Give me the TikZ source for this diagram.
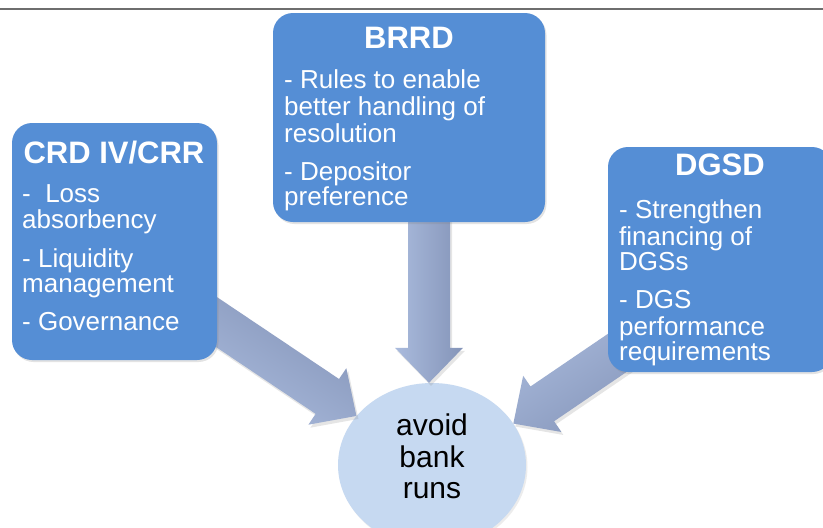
\documentclass[tikz,border=0pt]{standalone}
\usepackage{fontspec}
\setmainfont{Liberation Sans}
\usetikzlibrary{calc,shapes.geometric,shadows}
\definecolor{boxblue}{RGB}{85,142,213}
\definecolor{ellblue}{RGB}{198,217,241}
\definecolor{arrlight}{RGB}{170,187,221}
\definecolor{arrdark}{RGB}{132,148,184}
\definecolor{rulegray}{RGB}{110,110,110}
\pgfdeclarelayer{bg}\pgfdeclarelayer{mid}\pgfsetlayers{bg,mid,main}
\tikzset{
  panel/.style={draw=none, fill=boxblue, rounded corners=20pt, inner sep=0pt,
    drop shadow={opacity=0.22, shadow xshift=1.5pt, shadow yshift=-2pt}},
  titletxt/.style={font=\bfseries\fontsize{31}{33}\selectfont, text=white, inner sep=0pt, anchor=base},
  bodytxt/.style={font=\fontsize{26}{27}\selectfont, text=white, inner sep=0pt, anchor=base west},
  elltxt/.style={font=\fontsize{30}{32}\selectfont, text=black, inner sep=0pt, anchor=base},
  arrowfill/.style={top color=arrlight, bottom color=arrdark,
    drop shadow={opacity=0.2, shadow xshift=2pt, shadow yshift=-3pt}}
}
\newcommand\blockarrow[3]{%
  \path ($(#2)!35pt!(#1)$) coordinate (hb);
  \shade[arrowfill, shading angle=#3]
    ($(#1)!21pt!-90:(#2)$) -- ($(hb)!21pt!-90:(#2)$) -- ($(hb)!34pt!-90:(#2)$)
    -- (#2) -- ($(hb)!34pt!90:(#2)$) -- ($(hb)!21pt!90:(#2)$)
    -- ($(#1)!21pt!90:(#2)$) -- cycle;}
\begin{document}
\begin{tikzpicture}[x=1pt, y=-1pt]
\useasboundingbox (0,0) rectangle (823,528);
\begin{pgfonlayer}{bg}
\fill[white] (0,0) rectangle (823,528);
\node[ellipse, fill=ellblue, inner sep=0pt, minimum width=188pt, minimum height=164pt,
  drop shadow={opacity=0.15, shadow xshift=1.5pt, shadow yshift=-2pt}] (avoid) at (432,465) {};
\end{pgfonlayer}
\draw[rulegray, line width=2pt] (0,9) -- (823,9);

% boxes
\node[panel, minimum width=272pt, minimum height=209pt] (brrd) at (409,117.5) {};
\node[panel, minimum width=205pt, minimum height=237pt] (crd) at (114.5,241.5) {};
\node[panel, minimum width=224pt, minimum height=225pt] (dgsd) at (720,259.5) {};

% arrows
\coordinate (lt) at (200,311);
\coordinate (rt) at (670,317);
\coordinate (mt) at (429,200);
\coordinate (lp) at (avoid.147);
\coordinate (rp) at (avoid.27.4);
\coordinate (mp) at ($(avoid.north)+(-3,0)$);
\begin{pgfonlayer}{mid}
\blockarrow{lt}{lp}{146}
\blockarrow{rt}{rp}{34}
\blockarrow{mt}{mp}{90}
\end{pgfonlayer}

% BRRD text
\node[titletxt] (brrdT) at (409,48) {BRRD};
\node[bodytxt] (b1) at (284,88) {- Rules to enable};
\node[bodytxt] (b2) at (284,115) {better handling of};
\node[bodytxt] (b3) at (284,142) {resolution};
\node[bodytxt] (b4) at (284,180) {- Depositor};
\node[bodytxt] (b5) at (284,205) {preference};

% CRD text
\node[titletxt] (crdT) at (114,163) {CRD IV/CRR};
\node[bodytxt] (c1) at (22,202) {-\ \ Loss};
\node[bodytxt] (c2) at (22,228) {absorbency};
\node[bodytxt] (c3) at (22,267) {- Liquidity};
\node[bodytxt] (c4) at (22,292) {management};
\node[bodytxt] (c5) at (22,330) {- Governance};

% DGSD text
\node[titletxt] (dgsdT) at (720,175) {DGSD};
\node[bodytxt] (d1) at (619,218) {- Strengthen};
\node[bodytxt] (d2) at (619,245) {financing of};
\node[bodytxt] (d3) at (619,270) {DGSs};
\node[bodytxt] (d4) at (619,308) {- DGS};
\node[bodytxt] (d5) at (619,335) {performance};
\node[bodytxt] (d6) at (619,360) {requirements};

% ellipse text
\node[elltxt] (e1) at (432,435) {avoid};
\node[elltxt] (e2) at (432,467) {bank};
\node[elltxt] (e3) at (432,498) {runs};
\end{tikzpicture}
\end{document}
